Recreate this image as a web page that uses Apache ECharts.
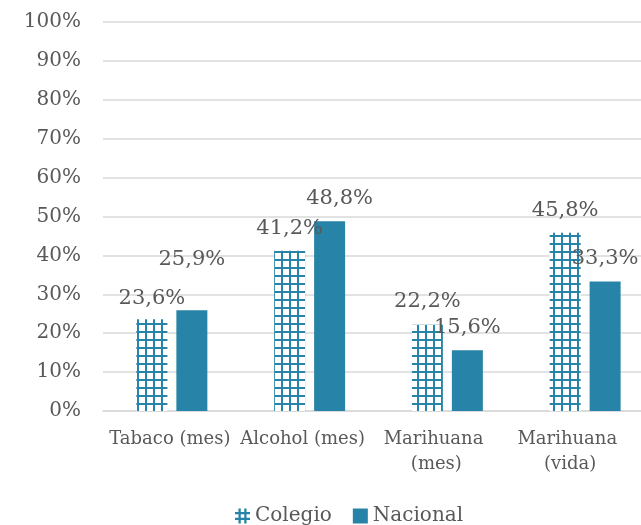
<!DOCTYPE html>
<html>
<head>
<meta charset="utf-8">
<script src="https://cdn.jsdelivr.net/npm/echarts@6/dist/echarts.min.js"></script>
<style>
html,body{margin:0;padding:0;background:#fff;}
#chart{width:641px;height:525px;}
</style>
</head>
<body>
<div id="chart"></div>
<script>
const categories = ['Tabaco (mes)', 'Alcohol (mes)', 'Marihuana (mes)', 'Marihuana (vida)'];
const seriesNames = ['Colegio', 'Nacional'];
const colegio = [23.6, 41.2, 22.2, 45.8];
const nacional = [25.9, 48.8, 15.6, 33.3];
const yTicks = [0, 10, 20, 30, 40, 50, 60, 70, 80, 90, 100];

const BLUE = '#2783a7';
const TEXT = '#595959';
const FONT = '"DejaVu Serif", "Liberation Serif", serif';

function makeHatch() {
  const c = document.createElement('canvas');
  c.width = 8; c.height = 8;
  const g = c.getContext('2d');
  g.fillStyle = '#ffffff';
  g.fillRect(0, 0, 8, 8);
  g.fillStyle = BLUE;
  g.fillRect(1, 0, 2, 8);
  g.fillRect(0, 3, 8, 2);
  return c;
}
const hatch = makeHatch();

// label placement tweaks (style only)
const colegioLabelOffsets = [[0, -5], [0, -7], [0, -8], [0, -7]];
const nacionalLabelOffsets = [[0, -35], [10, -7], [0, -7], [0, -7]];
// category label shift (style only)
const catLabelPadRight = [4, 14, 22, 30];

function fmt(v) { return v.toFixed(1).replace('.', ',') + '%'; }

function build(values, offsets) {
  return values.map((v, i) => ({
    value: v,
    label: { offset: offsets[i] }
  }));
}

const labelBase = {
  show: true,
  position: 'top',
  distance: 5,
  color: TEXT,
  fontFamily: FONT,
  fontSize: 21,
  formatter: p => fmt(p.value)
};

const hashIcon = 'path://M4,1h2v13h-2z M9,1h2v13h-2z M1,4h13v2h-13z M1,9h13v2h-13z';

const chart = echarts.init(document.getElementById('chart'), null, { renderer: 'canvas' });
chart.setOption({
  animation: false,
  backgroundColor: '#fff',
  grid: { left: 103, width: 551, top: 22, bottom: 114, containLabel: false, outerBoundsMode: 'none' },
  legend: {
    top: 501,
    left: 230,
    itemWidth: 15,
    itemHeight: 15,
    itemGap: 21,
    textStyle: { color: TEXT, fontFamily: FONT, fontSize: 20 },
    data: [
      { name: seriesNames[0], icon: hashIcon, itemStyle: { color: BLUE } },
      { name: seriesNames[1], icon: 'rect' }
    ]
  },
  xAxis: {
    type: 'category',
    data: categories.map((c, i) => ({ value: c, textStyle: { padding: [0, catLabelPadRight[i], 0, 0] } })),
    axisLine: { lineStyle: { color: '#d9d9d9', width: 1.5 } },
    axisTick: { show: false },
    axisLabel: {
      color: TEXT, fontFamily: FONT, fontSize: 18, margin: 16,
      interval: 0, width: 130, overflow: 'break', lineHeight: 25
    }
  },
  yAxis: {
    type: 'value',
    min: yTicks[0],
    max: yTicks[yTicks.length - 1],
    interval: 10,
    axisLine: { show: false },
    axisTick: { show: false },
    splitLine: { lineStyle: { color: '#d9d9d9', width: 1.5 } },
    axisLabel: { color: TEXT, fontFamily: FONT, fontSize: 20, margin: 22, formatter: v => v + '%' }
  },
  series: [
    {
      name: seriesNames[0],
      type: 'bar',
      barWidth: '22.5%',
      barGap: '29%',
      itemStyle: { color: { image: hatch, repeat: 'repeat' } },
      label: labelBase,
      data: build(colegio, colegioLabelOffsets)
    },
    {
      name: seriesNames[1],
      type: 'bar',
      barWidth: '22.5%',
      barGap: '29%',
      itemStyle: { color: BLUE },
      label: labelBase,
      data: build(nacional, nacionalLabelOffsets)
    }
  ]
});
</script>
</body>
</html>
